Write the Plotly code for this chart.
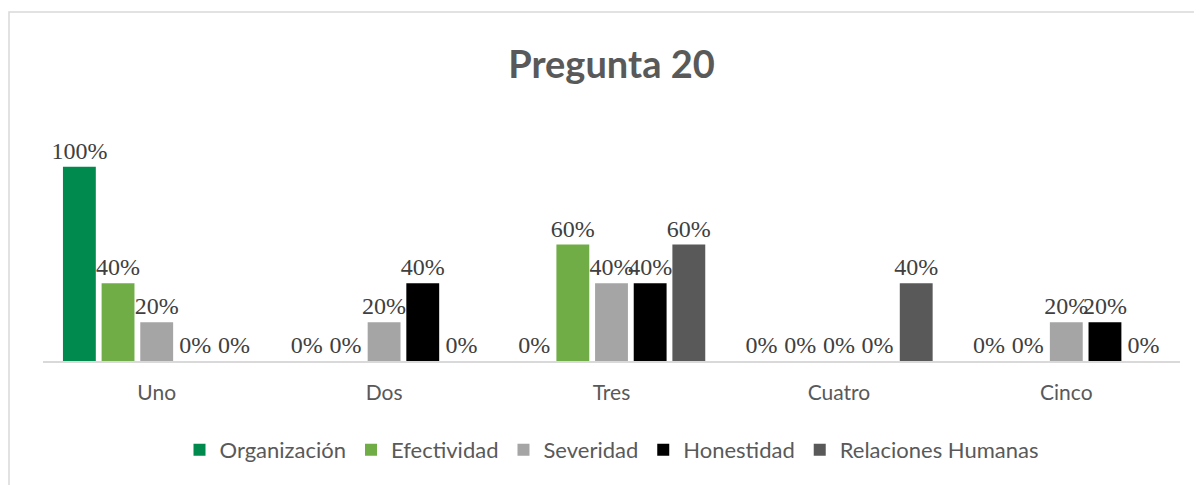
import plotly.graph_objects as go

categorias = ['Uno', 'Dos', 'Tres', 'Cuatro', 'Cinco']
organizacion = [1.00, 0.00, 0.00, 0.00, 0.00]
efectividad = [0.40, 0.00, 0.60, 0.00, 0.00]
severidad = [0.20, 0.20, 0.40, 0.00, 0.20]
honestidad = [0.00, 0.40, 0.40, 0.00, 0.20]
relaciones = [0.00, 0.00, 0.60, 0.40, 0.00]

series = [
    ('Organización', organizacion, '#008A4E'),
    ('Efectividad', efectividad, '#70AD47'),
    ('Severidad', severidad, '#A5A5A5'),
    ('Honestidad', honestidad, '#000000'),
    ('Relaciones Humanas', relaciones, '#595959'),
]

sans = 'Lato, Open Sans, sans-serif'
serif = 'Liberation Serif, Times New Roman, serif'

fig = go.Figure()
for nombre, valores, color in series:
    fig.add_trace(go.Bar(
        x=categorias,
        y=valores,
        name=nombre,
        marker=dict(color=color, line=dict(width=0)),
        text=[f'{v:.0%}' for v in valores],
        textposition='outside',
        constraintext='none',
        cliponaxis=False,
        textfont=dict(family=serif, size=24, color='#404040'),
    ))

# marco del gráfico (recortado a la derecha y abajo como en la imagen)
fig.add_shape(type='rect', xref='paper', yref='paper',
              x0=-0.0299, x1=1.05, y0=-0.7, y1=1.498,
              line=dict(color='#D9D9D9', width=1.5), fillcolor='rgba(0,0,0,0)')

fig.update_layout(
    width=1202, height=485,
    margin=dict(l=35, r=30, t=120, b=132),
    paper_bgcolor='white',
    plot_bgcolor='white',
    barmode='group',
    bargap=0.15,
    bargroupgap=0.15,
    title=dict(text='<b>Pregunta 20</b>', x=0.5, xref='paper',
               y=1 - 57 / 485, yref='container', yanchor='middle',
               font=dict(family=sans, size=38, color='#595959')),
    xaxis=dict(showgrid=False, showline=True, linecolor='#D9D9D9', linewidth=2,
               ticks='', tickfont=dict(family=sans, size=21, color='#595959'),
               ticklabelstandoff=12),
    yaxis=dict(range=[0, 1.2], visible=False),
    legend=dict(orientation='h', x=0.5, xanchor='center', y=-0.382, yanchor='middle',
                font=dict(family=sans, size=22, color='#595959'),
                traceorder='normal'),
    showlegend=True,
)

fig.write_html('out.html')
